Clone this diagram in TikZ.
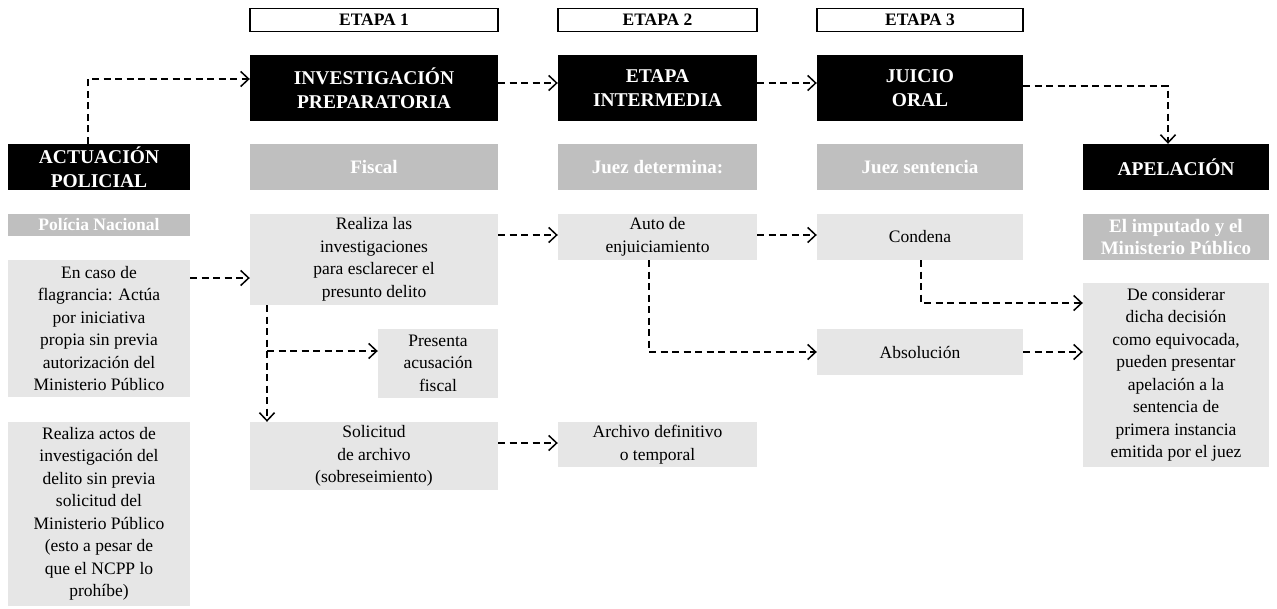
\documentclass[tikz,border=0pt]{standalone}
\usepackage{fontspec}
\setmainfont{Liberation Serif}
\usetikzlibrary{arrows.meta,positioning}
\definecolor{RolGray}{HTML}{BFBFBF}
\definecolor{NotaGray}{HTML}{E6E6E6}

\begin{document}
\begin{tikzpicture}[x=1pt,y=1pt,
    box/.style={inner sep=0pt,align=center},
    etapa/.style={box,draw=black,line width=1.4pt,minimum height=23,font=\fontsize{17.5}{20}\selectfont\bfseries},
    fase/.style={box,fill=black,text=white,font=\fontsize{19.5}{24.5}\selectfont\bfseries},
    rol/.style={box,fill=RolGray,text=white,font=\fontsize{19}{22.5}\selectfont\bfseries},
    nota/.style={box,fill=NotaGray,font=\fontsize{17.5}{22.5}\selectfont},
    flow/.style={line width=1.5pt,dash pattern=on 7pt off 4.5pt,-{Straight Barb[length=8pt,width=15pt]}}]
  \useasboundingbox (0,0) rectangle (1277,-608);

  % etapas
  \node[etapa,minimum width=248] (e1) at (374,-20) {ETAPA 1};
  \node[etapa,minimum width=199] (e2) at (657.5,-20) {ETAPA 2};
  \node[etapa,minimum width=206] (e3) at (920,-20) {ETAPA 3};

  % fases
  \node[fase,minimum width=182,minimum height=46] (act) at (99,-167) {ACTUACIÓN\\POLICIAL};
  \node[fase,minimum width=248,minimum height=66] (inv) at (374,-88) {INVESTIGACIÓN\\PREPARATORIA};
  \node[fase,minimum width=199,minimum height=66] (inter) at (657.5,-88) {ETAPA\\INTERMEDIA};
  \node[fase,minimum width=206,minimum height=66] (juicio) at (920,-88) {JUICIO\\ORAL};
  \node[fase,minimum width=186,minimum height=46] (apel) at (1176,-167) {APELACIÓN};

  % quien actua
  \node[rol,minimum width=182,minimum height=22,font=\fontsize{17.5}{20}\selectfont\bfseries] (policia) at (99,-225) {Polícia Nacional};
  \node[rol,minimum width=248,minimum height=46] (fiscal) at (374,-167) {Fiscal};
  \node[rol,minimum width=199,minimum height=46] (juezdet) at (657.5,-167) {Juez determina:};
  \node[rol,minimum width=206,minimum height=46] (juezsen) at (920,-167) {Juez sentencia};
  \node[rol,minimum width=186,minimum height=46] (imputado) at (1176,-237) {El imputado y el\\Ministerio Público};

  % notas
  \node[nota,minimum width=182,minimum height=137] (flag) at (99,-328.5) {En caso de\\flagrancia: Actúa\\por iniciativa\\propia sin previa\\autorización del\\Ministerio Público};
  \node[nota,minimum width=182,minimum height=184] (actos) at (99,-514) {Realiza actos de\\investigación del\\delito sin previa\\solicitud del\\Ministerio Público\\(esto a pesar de\\que el NCPP lo\\prohíbe)};
  \node[nota,minimum width=248,minimum height=91] (realiza) at (374,-259.5) {Realiza las\\investigaciones\\para esclarecer el\\presunto delito};
  \node[nota,minimum width=120,minimum height=69] (presenta) at (438,-363) {Presenta\\acusación\\fiscal};
  \node[nota,minimum width=248,minimum height=68] (solicitud) at (374,-456) {Solicitud\\de archivo\\(sobreseimiento)};
  \node[nota,minimum width=199,minimum height=46] (auto) at (657.5,-237) {Auto de\\enjuiciamiento};
  \node[nota,minimum width=199,minimum height=45] (archivo) at (657.5,-444.5) {Archivo definitivo\\o temporal};
  \node[nota,minimum width=206,minimum height=46] (condena) at (920,-237) {Condena};
  \node[nota,minimum width=206,minimum height=46] (absol) at (920,-352) {Absolución};
  \node[nota,minimum width=186,minimum height=184] (consid) at (1176,-375) {De considerar\\dicha decisión\\como equivocada,\\pueden presentar\\apelación a la\\sentencia de\\primera instancia\\emitida por el juez};

  % flechas
  \coordinate (codo) at (88,-79);
  \coordinate (rama) at (267,-351);
  \draw[flow] (act.north -| codo) -- (codo) -- (codo -| inv.west);
  \draw[flow] ([yshift=5]inv.east) -- ([yshift=5]inter.west);
  \draw[flow] ([yshift=5]inter.east) -- ([yshift=5]juicio.west);
  \draw[flow] ([yshift=2]juicio.east) -| ([xshift=-8]apel.north);
  \draw[flow] ([yshift=50.5]flag.east) -- ([yshift=50.5]flag.east -| realiza.west);
  \draw[flow] ([yshift=24.5]realiza.east) -- ([yshift=24.5]realiza.east -| auto.west);
  \draw[flow] ([yshift=2]auto.east) -- ([yshift=2]condena.west);
  \draw[flow] (realiza.south -| rama) -- (solicitud.north -| rama);
  \draw[flow] (rama) -- (rama -| presenta.west);
  \draw[flow] ([yshift=13]solicitud.east) -- ([yshift=13]solicitud.east -| archivo.west);
  \draw[flow] ([xshift=-8.5]auto.south) |- (absol.west);
  \draw[flow] ([xshift=1]condena.south) |- ([yshift=72]consid.west);
  \draw[flow] (absol.east) -- (absol.east -| consid.west);
\end{tikzpicture}
\end{document}
